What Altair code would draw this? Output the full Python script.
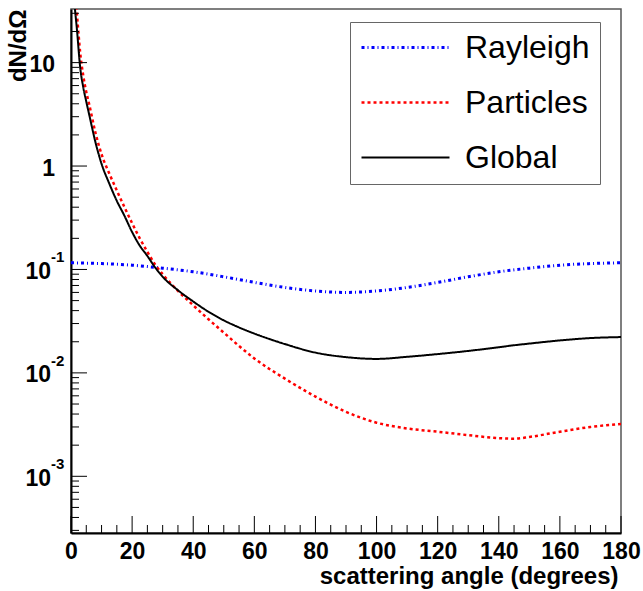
import altair as alt
import pandas as pd

# ---------------- data ----------------
series_order = ["Rayleigh", "Particles", "Global"]

ray_angles = [0, 10, 20, 30, 40, 50, 60, 70, 80, 90, 100, 110, 120, 130, 140, 150, 160, 170, 180]
rayleigh = [0.116, 0.114, 0.110, 0.103, 0.095, 0.085, 0.075, 0.067, 0.062, 0.060,
            0.062, 0.067, 0.075, 0.085, 0.095, 0.103, 0.110, 0.114, 0.116]

p_angles = [0, 1, 2, 3, 4, 5, 6, 8, 10, 12.5, 15, 17.5, 20, 22.5, 25, 27.5, 30, 35, 40, 45,
            50, 55, 60, 70, 80, 90, 100, 110, 120, 130, 140, 145, 150, 160, 170, 180]
particles = [150, 60, 28, 12.5, 7.5, 5.2, 3.9, 2.1, 1.3, 0.85, 0.58, 0.40, 0.28, 0.20, 0.148,
             0.112, 0.090, 0.062, 0.045, 0.033, 0.0245, 0.0182, 0.0138, 0.0088, 0.0059, 0.0042,
             0.0033, 0.0029, 0.0027, 0.0025, 0.00234, 0.00231, 0.0024, 0.0027, 0.0030, 0.0032]
global_vals = [125, 42, 20, 9, 5.8, 4.2, 3.1, 1.7, 1.05, 0.68, 0.46, 0.33, 0.23, 0.17, 0.135,
               0.105, 0.085, 0.063, 0.049, 0.039, 0.0322, 0.0275, 0.0240, 0.0190, 0.0157, 0.0142,
               0.01365, 0.0143, 0.0152, 0.0163, 0.0177, 0.0185, 0.0192, 0.0206, 0.0217, 0.0222]

x_major = [0, 20, 40, 60, 80, 100, 120, 140, 160, 180]
x_minor = [a for a in range(0, 181, 5) if a % 20 != 0]
y_major = [1e-3, 1e-2, 1e-1, 1, 10]
y_minor = [m * 10.0 ** e for e in range(-4, 2) for m in range(2, 10)
           if 2.83e-4 <= m * 10.0 ** e <= 33]
y_plain_vals = [10, 1]
y_plain_text = ["10", "1"]
y_pow_vals = [0.1, 0.01, 0.001]
y_pow_sup = ["-1", "-2", "-3"]

colors = ["#0000ff", "#ff0000", "#000000"]
dashes = [[3, 3, 1, 3], [3, 3], [1, 0]]
widths = [3, 2, 2]

# ---------------- tables ----------------
rows = []
for a, v in zip(ray_angles, rayleigh):
    rows.append({"angle": a, "v": v, "series": "Rayleigh"})
for a, v in zip(p_angles, particles):
    rows.append({"angle": a, "v": v, "series": "Particles"})
for a, v in zip(p_angles, global_vals):
    rows.append({"angle": a, "v": v, "series": "Global"})
df = pd.DataFrame(rows)

W, H = 550, 524
FONT = "Liberation Sans"

xscale = alt.Scale(domain=[0, 180], nice=False, zero=False)
yscale = alt.Scale(type="log", domain=[2.83e-4, 33], nice=False)

x_axis = alt.Axis(values=x_major, ticks=False, tickSize=0, grid=False,
                  domainColor="black", domainWidth=2,
                  labelFont=FONT, labelFontWeight="bold", labelFontSize=23,
                  labelColor="black", labelBaseline="alphabetic", labelPadding=25,
                  labelFlush=False,
                  title="scattering angle (degrees)", titleFont=FONT,
                  titleFontWeight="bold", titleFontSize=24, titleColor="black",
                  titleAlign="right", titleBaseline="alphabetic",
                  titleX=547, titleY=50)
y_axis = alt.Axis(labels=False, ticks=False, tickSize=0, grid=False,
                  domainColor="black", domainWidth=2,
                  title="dN/dΩ", titleFont=FONT, titleFontWeight="bold",
                  titleFontSize=24, titleColor="black", titleAngle=270,
                  titleAlign="right", titleBaseline="top",
                  titleX=-65, titleY=0)

lines = alt.Chart(df).mark_line(clip=True, interpolate="monotone").encode(
    x=alt.X("angle:Q", scale=xscale, axis=x_axis),
    y=alt.Y("v:Q", scale=yscale, axis=y_axis),
    color=alt.Color("series:N", scale=alt.Scale(domain=series_order, range=colors),
                    legend=alt.Legend(title=None)),
    strokeDash=alt.StrokeDash("series:N", scale=alt.Scale(domain=series_order, range=dashes),
                              legend=alt.Legend(title=None)),
    strokeWidth=alt.StrokeWidth("series:N", scale=alt.Scale(domain=series_order, range=widths),
                                legend=alt.Legend(title=None)),
)

xt_major = alt.Chart(pd.DataFrame({"angle": x_major})).mark_rule(color="black", strokeWidth=1).encode(
    x=alt.X("angle:Q", scale=xscale, axis=x_axis), y=alt.value(H), y2=alt.value(H - 17))
xt_minor = alt.Chart(pd.DataFrame({"angle": x_minor})).mark_rule(color="black", strokeWidth=1).encode(
    x=alt.X("angle:Q", scale=xscale, axis=x_axis), y=alt.value(H), y2=alt.value(H - 8))
yt_major = alt.Chart(pd.DataFrame({"v": y_major})).mark_rule(color="black", strokeWidth=1).encode(
    y=alt.Y("v:Q", scale=yscale, axis=y_axis), x=alt.value(0), x2=alt.value(16))
yt_minor = alt.Chart(pd.DataFrame({"v": y_minor})).mark_rule(color="black", strokeWidth=1).encode(
    y=alt.Y("v:Q", scale=yscale, axis=y_axis), x=alt.value(0), x2=alt.value(8))

ylab_plain = alt.Chart(pd.DataFrame({"v": y_plain_vals, "t": y_plain_text})).mark_text(
    align="right", baseline="middle", dy=2.5, font=FONT, fontWeight="bold",
    fontSize=23, color="black").encode(
    y=alt.Y("v:Q", scale=yscale, axis=y_axis), x=alt.value(-16), text="t:N")
ylab_base = alt.Chart(pd.DataFrame({"v": y_pow_vals, "t": ["10"] * 3})).mark_text(
    align="right", baseline="middle", dy=2.5, font=FONT, fontWeight="bold",
    fontSize=23, color="black").encode(
    y=alt.Y("v:Q", scale=yscale, axis=y_axis), x=alt.value(-20), text="t:N")
ylab_sup = alt.Chart(pd.DataFrame({"v": y_pow_vals, "t": y_pow_sup})).mark_text(
    align="left", baseline="middle", dy=-12, font=FONT, fontWeight="bold",
    fontSize=15, color="black").encode(
    y=alt.Y("v:Q", scale=yscale, axis=y_axis), x=alt.value(-20), text="t:N")

chart = alt.layer(
    lines, xt_major, xt_minor, yt_major, yt_minor, ylab_plain, ylab_base, ylab_sup
).properties(
    width=W, height=H,
    autosize=alt.AutoSizeParams(type="none"),
    padding={"left": 71, "top": 9, "right": 22, "bottom": 58},
    background="white",
).configure_view(
    stroke="#555555", strokeWidth=1.5
).configure_legend(
    orient="none", legendX=279, legendY=13, padding=10,
    fillColor="white", strokeColor="#666666", cornerRadius=0,
    symbolType="stroke", symbolSize=7744, symbolOffset=0, clipHeight=31,
    labelFont=FONT, labelFontSize=32, labelColor="black", labelOffset=14,
    rowPadding=22, labelLimit=300,
)

chart.save("out.html", embed_options={"renderer": "svg", "actions": False})
